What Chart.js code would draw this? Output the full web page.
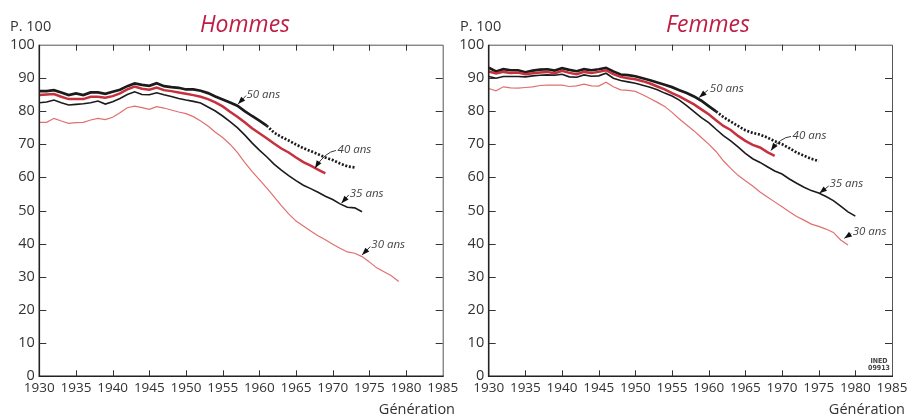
<!DOCTYPE html>
<html><head><meta charset="utf-8">
<script src="https://cdn.jsdelivr.net/npm/chart.js@4.4.1/dist/chart.umd.min.js"></script>
<style>
html,body{margin:0;padding:0;background:#fff;overflow:hidden;}
#wrap{position:relative;width:907px;height:417px;overflow:hidden;}
canvas{position:absolute;top:0;}
#c1{left:0px}
#c2{left:449px}
</style></head><body>
<div id="wrap"><canvas id="c1" width="470" height="417"></canvas><canvas id="c2" width="470" height="417"></canvas></div>
<script>
// Générations (année de naissance), à partir de 1930
const years = [1930,1931,1932,1933,1934,1935,1936,1937,1938,1939,1940,1941,1942,1943,1944,1945,1946,1947,1948,1949,1950,1951,1952,1953,1954,1955,1956,1957,1958,1959,1960,1961,1962,1963,1964,1965,1966,1967,1968,1969,1970,1971,1972,1973,1974,1975,1976,1977,1978,1979,1980];
const xTicks = [1930,1935,1940,1945,1950,1955,1960,1965,1970,1975,1980,1985];
const yTicks = [0,10,20,30,40,50,60,70,80,90,100];

// Hommes
const men50 = [86.0,86.0,86.3,85.6,84.8,85.3,84.8,85.6,85.6,85.2,85.8,86.4,87.5,88.3,87.9,87.6,88.4,87.5,87.2,87.0,86.5,86.5,86.1,85.4,84.4,83.5,82.6,81.6,80.0,78.5,77.1,75.6,73.5,72.2,71.1,69.9,68.8,67.9,67.0,66.0,65.2,64.2,63.3,63.0];
const men40 = [84.8,85.0,85.1,84.3,83.6,83.6,83.6,84.3,84.3,84.0,84.5,85.3,86.5,87.4,86.7,86.4,87.1,86.3,86.0,85.6,85.2,84.8,84.3,83.6,82.6,81.4,79.8,78.3,76.6,74.8,73.3,71.8,70.2,68.7,67.5,66.0,64.6,63.5,62.3,61.2];
const men35 = [82.5,82.7,83.3,82.5,81.8,82.0,82.2,82.5,83.0,82.1,82.8,83.8,85.0,85.8,85.0,84.9,85.5,84.9,84.4,83.8,83.3,82.9,82.4,81.2,80.0,78.5,76.8,75.0,72.8,70.4,68.2,66.2,64.0,62.2,60.5,59.0,57.6,56.6,55.5,54.3,53.3,52.0,51.0,50.8,49.6];
const men30 = [76.6,76.6,77.8,77.0,76.3,76.5,76.6,77.3,77.8,77.4,78.1,79.5,81.0,81.5,81.0,80.5,81.3,80.9,80.3,79.7,79.2,78.3,77.0,75.5,73.6,72.0,70.0,67.5,64.5,61.8,59.3,56.8,54.2,51.5,49.0,46.8,45.3,43.8,42.4,41.2,39.8,38.6,37.5,37.1,36.1,34.5,32.7,31.5,30.3,28.6];

// Femmes
const women50 = [93.1,91.9,92.6,92.3,92.3,91.7,92.2,92.5,92.6,92.2,92.9,92.4,92.0,92.6,92.3,92.6,93.0,91.9,91.0,90.8,90.5,89.9,89.3,88.6,87.9,87.2,86.3,85.4,84.4,83.1,81.5,79.9,78.2,76.8,75.5,74.2,73.4,72.9,72.0,70.9,70.0,68.8,67.5,66.5,65.6,64.9];
const women40 = [91.9,91.3,91.8,91.5,91.6,91.1,91.4,91.6,91.8,91.3,92.1,91.5,91.1,91.8,91.5,91.8,92.3,91.1,90.3,89.9,89.6,89.0,88.3,87.4,86.5,85.4,84.4,83.2,82.0,80.5,79.0,77.2,75.5,74.3,72.5,71.0,69.8,69.0,67.6,66.5];
const women35 = [90.4,89.9,90.4,90.4,90.4,90.3,90.6,90.8,90.9,90.8,91.1,90.3,90.2,90.9,90.5,90.6,91.4,89.9,89.2,88.8,88.4,87.8,87.2,86.4,85.4,84.5,83.3,81.6,79.8,78.0,76.5,74.5,72.6,71.0,69.2,67.2,65.6,64.5,63.2,61.9,61.0,59.5,58.2,57.0,56.0,55.3,54.2,53.0,51.3,49.6,48.3];
const women30 = [86.8,86.1,87.3,87.0,86.9,87.1,87.3,87.7,87.8,87.8,87.8,87.4,87.6,88.1,87.6,87.5,88.7,87.3,86.4,86.2,85.9,84.9,83.8,82.6,81.4,79.6,77.6,75.8,74.0,72.0,70.0,67.8,65.0,62.7,60.6,59.0,57.4,55.6,54.1,52.6,51.1,49.6,48.2,47.1,45.9,45.2,44.4,43.4,41.1,39.6];

// Première génération "50 ans" projetée (pointillés)
const menProjectedFrom = 1961;
const womenProjectedFrom = 1960.6;

// Étiquettes des courbes : point visé (génération, valeur)
const menNoteLabels = ['50 ans','40 ans','35 ans','30 ans'];
const menNoteX = [1957.1,1967.6,1971.2,1974.0];
const menNoteY = [82.1,62.8,52.2,36.6];
const womenNoteLabels = ['50 ans','40 ans','35 ans','30 ans'];
const womenNoteX = [1958.7,1968.5,1975.1,1978.5];
const womenNoteY = [84.1,68.1,55.2,41.6];

// --- styles / layout (not data) ---
const FONT = "'Open Sans', 'Noto Sans', sans-serif";
const BLACK = '#1b1b1b', RED = '#c5313d', RED_LIGHT = '#e0706f';
const noteGeom = [
  {lx:8.4, ly:-5.7, sx:8, sy:-8.5},
  {lx:22.5, ly:-15, sx:20.8, sy:-17.6, cx:10, cy:-16},
  {lx:8.3, ly:-6.6, sx:7.3, sy:-8.3},
  {lx:9.3, ly:-6.7, sx:8.3, sy:-8.3}
];
const noteGeomW = [
  {lx:10.7, ly:-5.6, sx:8.7, sy:-7.3},
  {lx:21.6, ly:-11.7, sx:20, sy:-14, cx:9.3, cy:-13},
  {lx:10, ly:-6.6, sx:9.3, sy:-7.3},
  {lx:8.3, ly:-3.4, sx:7, sy:-4.7}
];

function pts(arr){ return arr.map((v,i)=>({x:years[i], y:v})); }

const deco = {
  id:'deco',
  afterDraw(chart){
    const o = chart.options.plugins.deco;
    const ctx = chart.ctx, a = chart.chartArea, xs = chart.scales.x, ys = chart.scales.y;
    ctx.save();
    // box
    ctx.lineCap='butt';
    ctx.strokeStyle='#555'; ctx.lineWidth=1;
    ctx.beginPath(); ctx.moveTo(a.left, a.top+0.5); ctx.lineTo(a.right+0.5, a.top+0.5); ctx.lineTo(a.right+0.5, a.bottom); ctx.stroke();
    ctx.strokeStyle='#222'; ctx.lineWidth=1.6;
    ctx.beginPath(); ctx.moveTo(a.left, a.top); ctx.lineTo(a.left, a.bottom); ctx.lineTo(a.right+1, a.bottom); ctx.stroke();
    // inner ticks
    ctx.strokeStyle='#333'; ctx.lineWidth=1;
    xTicks.forEach(v=>{
      if (v<=xs.min || v>=xs.max) return;
      const p = Math.round(xs.getPixelForValue(v))+0.5;
      ctx.beginPath(); ctx.moveTo(p,a.bottom); ctx.lineTo(p,a.bottom-6); ctx.moveTo(p,a.top); ctx.lineTo(p,a.top+6); ctx.stroke();
    });
    yTicks.forEach(v=>{
      if (v<=ys.min || v>=ys.max) return;
      const p = Math.round(ys.getPixelForValue(v))+0.5;
      ctx.beginPath(); ctx.moveTo(a.left,p); ctx.lineTo(a.left+7,p); ctx.moveTo(a.right,p); ctx.lineTo(a.right-7,p); ctx.stroke();
    });
    // title and texts
    ctx.fillStyle='#be1e45';
    ctx.font = "italic 23px " + FONT;
    ctx.textAlign='center'; ctx.textBaseline='alphabetic';
    ctx.fillText(o.title, o.titleX, 31.5);
    ctx.fillStyle='#333';
    ctx.font = "14.5px " + FONT;
    ctx.textAlign='left';
    ctx.fillText('P. 100', o.unitX, 31);
    ctx.textAlign='right';
    ctx.fillText('Génération', o.genX, 414);
    if (o.ined){
      ctx.font = "bold 7px 'DejaVu Sans Condensed', " + FONT;
      ctx.textAlign='center'; ctx.fillStyle='#444';
      ctx.fillText('INED', o.ined, 362.5);
      ctx.fillText('09913', o.ined, 370);
    }
    // notes
    const L=o.notes.labels, NX=o.notes.x, NY=o.notes.y, G=o.notes.geom;
    ctx.font = "italic 11.5px " + FONT;
    ctx.textAlign='left';
    for (let i=0;i<L.length;i++){
      const tx = xs.getPixelForValue(NX[i]), ty = ys.getPixelForValue(NY[i]);
      const g = G[i];
      ctx.fillStyle='#444';
      ctx.fillText(L[i], tx+g.lx, ty+g.ly);
      // arrow shaft
      ctx.strokeStyle='#222'; ctx.lineWidth=0.9;
      ctx.beginPath(); ctx.moveTo(tx+g.sx, ty+g.sy);
      let fx, fy;
      if (g.cx!==undefined){ ctx.quadraticCurveTo(tx+g.cx, ty+g.cy, tx, ty); fx=tx+g.cx; fy=ty+g.cy; }
      else { ctx.lineTo(tx,ty); fx=tx+g.sx; fy=ty+g.sy; }
      ctx.stroke();
      // head
      const ang = Math.atan2(ty-fy, tx-fx), len=7.5, hw=2.8;
      const bx = tx - len*Math.cos(ang), by = ty - len*Math.sin(ang);
      ctx.fillStyle='#111';
      ctx.beginPath(); ctx.moveTo(tx,ty);
      ctx.lineTo(bx + hw*Math.sin(ang), by - hw*Math.cos(ang));
      ctx.lineTo(bx - hw*Math.sin(ang), by + hw*Math.cos(ang));
      ctx.closePath(); ctx.fill();
    }
    ctx.restore();
  }
};

function makeChart(id, s50, s40, s35, s30, projFrom, plotLeft, padRight, extra){
  const dashSeg = c => (c.p0.parsed.x >= projFrom - 0.01 ? [2,1.7] : undefined);
  return new Chart(document.getElementById(id), {
    type:'line',
    data:{ datasets:[
      {data:pts(s30), borderColor:RED_LIGHT, borderWidth:1.2, pointRadius:0, tension:0},
      {data:pts(s35), borderColor:BLACK, borderWidth:1.6, pointRadius:0, tension:0},
      {data:pts(s40), borderColor:RED, borderWidth:2.5, pointRadius:0, tension:0},
      {data:pts(s50), borderColor:BLACK, borderWidth:2.7, pointRadius:0, tension:0, borderCapStyle:'butt', segment:{borderDash:dashSeg}}
    ]},
    options:{
      responsive:false, animation:false, devicePixelRatio:1,
      layout:{padding:{top:44.7, right:padRight, left:0, bottom:0}},
      plugins:{legend:{display:false}, tooltip:{enabled:false}, title:{display:false}, deco:extra},
      scales:{
        x:{type:'linear', min:1930, max:1985,
           afterBuildTicks: s => { s.ticks = xTicks.map(v=>({value:v})); },
           afterFit: s => { s.height = 40.7; },
           ticks:{autoSkip:false, maxRotation:0, padding:4, color:'#333', font:{family:FONT, size:13.5}, callback:v=>String(v)},
           grid:{display:false, drawTicks:false}, border:{display:false}},
        y:{min:0, max:100,
           afterBuildTicks: s => { s.ticks = yTicks.map(v=>({value:v})); },
           afterFit: s => { s.width = plotLeft; },
           ticks:{padding:4.5, color:'#333', font:{family:FONT, size:14.5}, callback:v=>String(v)},
           grid:{display:false, drawTicks:false}, border:{display:false}}
      }
    },
    plugins:[deco]
  });
}

makeChart('c1', men50, men40, men35, men30, menProjectedFrom, 39.3, 470-442.7,
  {title:'Hommes', titleX:245, unitX:10, genX:455, ined:null,
   notes:{labels:menNoteLabels, x:menNoteX, y:menNoteY, geom:noteGeom}});
makeChart('c2', women50, women40, women35, women30, womenProjectedFrom, 488.7-449, 470-(892-449),
  {title:'Femmes', titleX:708-449, unitX:460-449, genX:905-449, ined:879-449,
   notes:{labels:womenNoteLabels, x:womenNoteX, y:womenNoteY, geom:noteGeomW}});
</script>
</body></html>
